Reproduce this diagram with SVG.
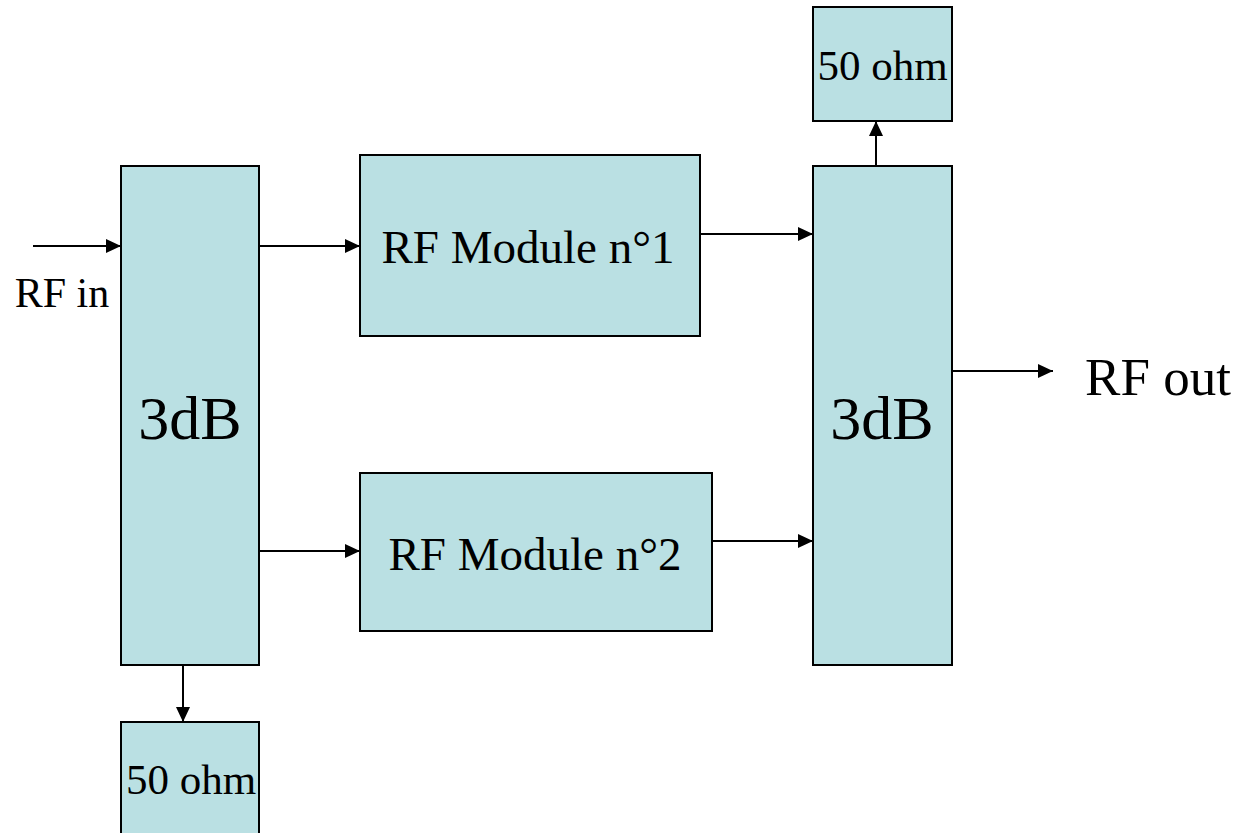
<svg xmlns="http://www.w3.org/2000/svg" width="1238" height="833" viewBox="0 0 1238 833">
<style>
.box{fill:#BAE0E3;stroke:#000;stroke-width:2}
.t{font-family:"Liberation Serif","Times New Roman",serif;fill:#000;text-anchor:middle}
.c{stroke:#000;stroke-width:2;fill:none;marker-end:url(#ah)}
</style>
<defs>
<marker id="ah" viewBox="0 0 15 14" refX="15" refY="7" markerWidth="15" markerHeight="14" markerUnits="userSpaceOnUse" orient="auto">
<path d="M0,0 L15,7 L0,14 z" fill="#000"/>
</marker>
</defs>
<rect width="1238" height="833" fill="#fff"/>
<g id="splitter">
<rect class="box" x="121" y="166" width="138" height="499"/>
<text class="t" x="190" y="439" font-size="62">3dB</text>
</g>
<g id="load1">
<rect class="box" x="121" y="722" width="138" height="120"/>
<text class="t" x="191" y="794" font-size="43">50 ohm</text>
</g>
<g id="module1">
<rect class="box" x="360" y="155" width="340" height="181"/>
<text class="t" x="528" y="263" font-size="47">RF Module n°1</text>
</g>
<g id="module2">
<rect class="box" x="360" y="473" width="352" height="158"/>
<text class="t" x="535" y="570" font-size="47">RF Module n°2</text>
</g>
<g id="combiner">
<rect class="box" x="813" y="166" width="139" height="499"/>
<text class="t" x="882" y="439" font-size="62">3dB</text>
</g>
<g id="load2">
<rect class="box" x="813" y="7" width="139" height="114"/>
<text class="t" x="882.5" y="80" font-size="43">50 ohm</text>
</g>
<g id="labels">
<text class="t" x="62" y="307" font-size="42">RF in</text>
<text class="t" x="1158" y="395" font-size="53">RF out</text>
</g>
<g id="connectors">
<line class="c" x1="33" y1="246" x2="121" y2="246"/>
<line class="c" x1="259" y1="246" x2="360" y2="246"/>
<line class="c" x1="259" y1="551" x2="360" y2="551"/>
<line class="c" x1="700" y1="234" x2="813" y2="234"/>
<line class="c" x1="712" y1="541" x2="813" y2="541"/>
<line class="c" x1="952" y1="371" x2="1053" y2="371"/>
<line class="c" x1="876" y1="166" x2="876" y2="121"/>
<line class="c" x1="183" y1="665" x2="183" y2="722"/>
</g>
</svg>
